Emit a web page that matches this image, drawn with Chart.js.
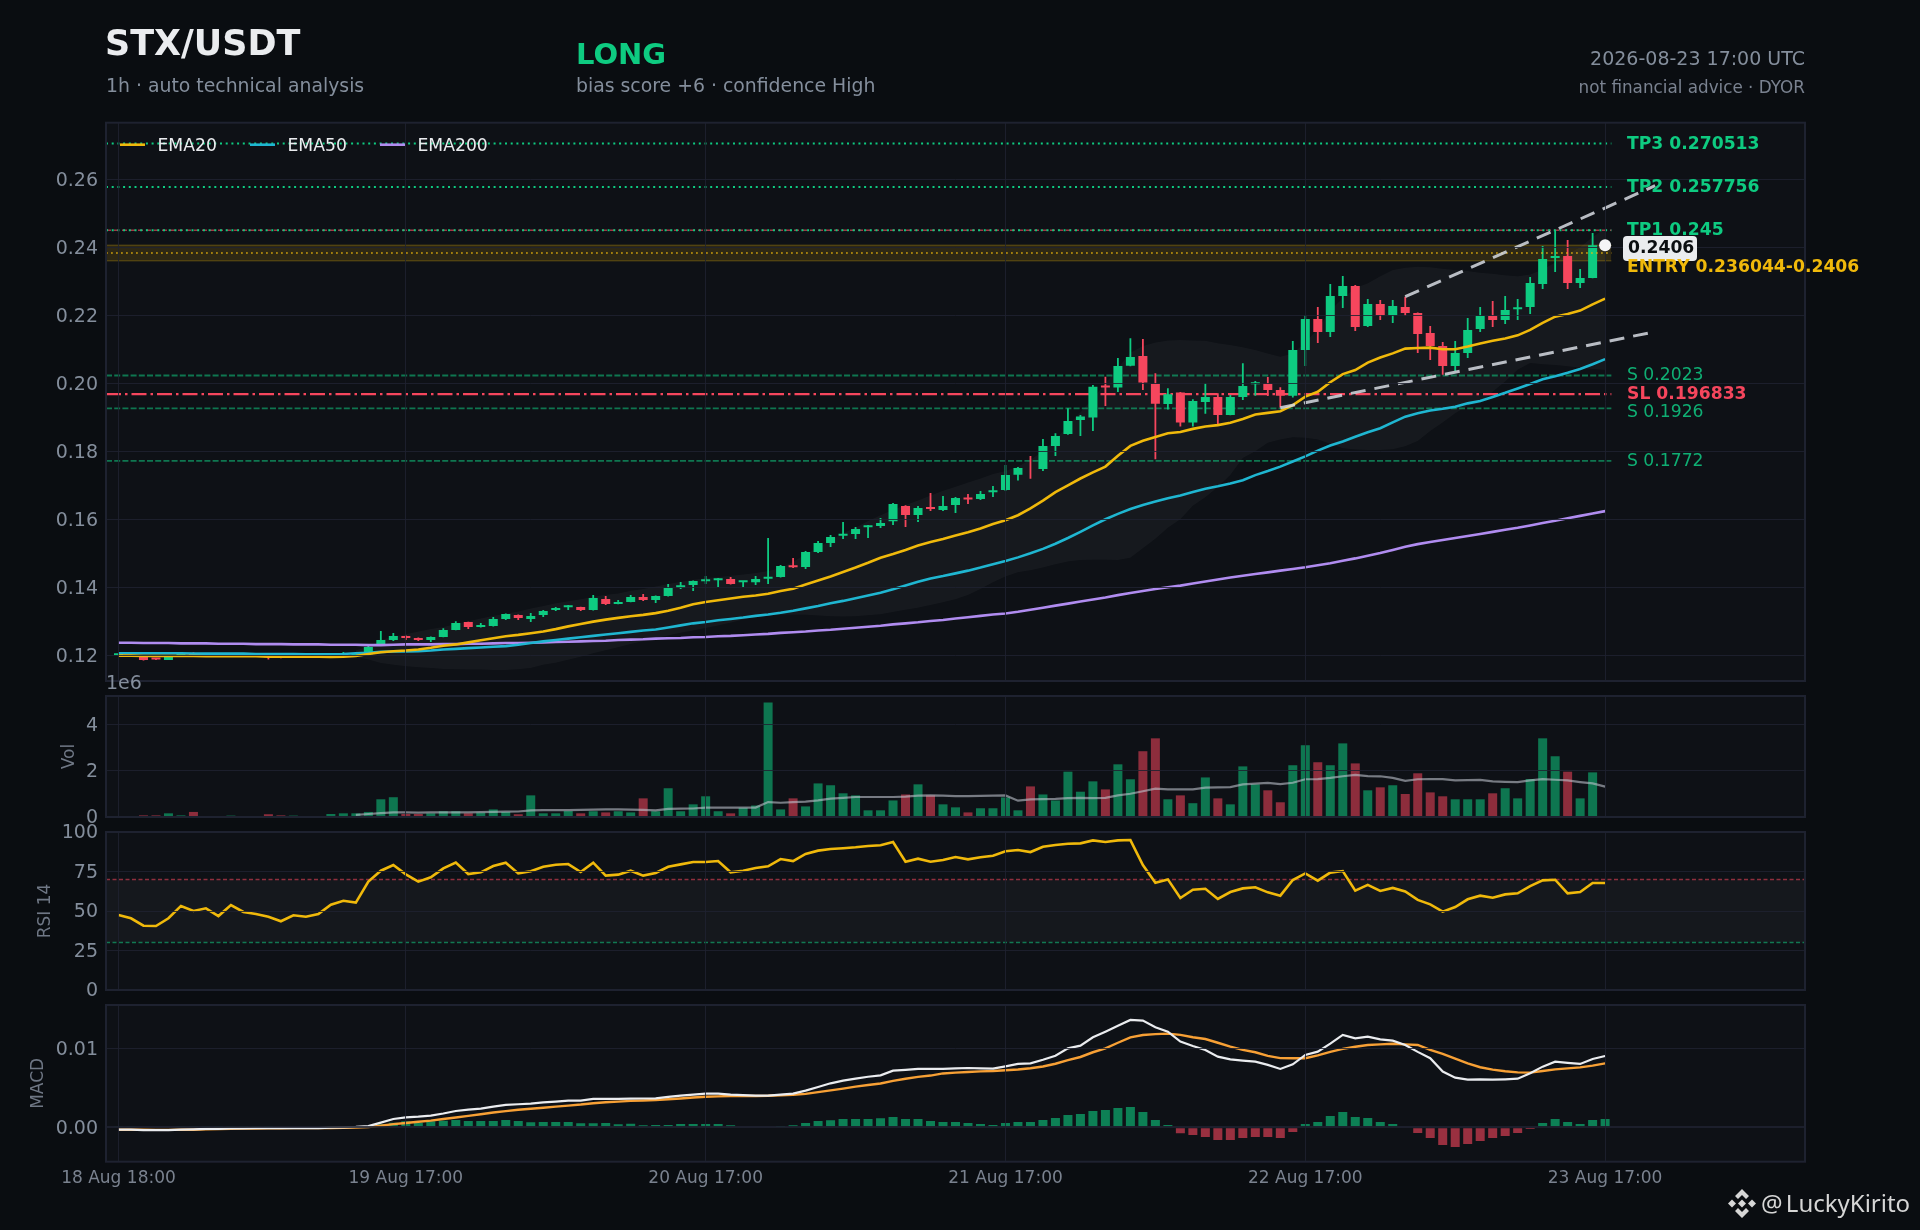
<!DOCTYPE html>
<html>
<head>
<meta charset="utf-8">
<title>STX/USDT</title>
<script src="https://cdn.jsdelivr.net/npm/chart.js@4/dist/chart.umd.min.js"></script>
<style>
  html, body { margin: 0; padding: 0; background: #0a0d11; }
  #page { position: relative; width: 1920px; height: 1230px; overflow: hidden; background: #0a0d11; font-family: "DejaVu Sans", sans-serif; }
  canvas { position: absolute; left: 0; top: 0; }
  .txt { position: absolute; line-height: 1; white-space: nowrap; transform: translateY(-50%); color: #848e9c; }
</style>
</head>
<body>
<div id="page">
  <canvas id="priceChart" width="1920" height="1230"></canvas>
  <canvas id="volChart" width="1920" height="1230"></canvas>
  <canvas id="rsiChart" width="1920" height="1230"></canvas>
  <canvas id="macdChart" width="1920" height="1230"></canvas>
  <div class="txt" style="left:105px;top:43px;font-size:35px;font-weight:bold;color:#eaecef">STX/USDT</div>
  <div class="txt" style="left:106px;top:86px;font-size:18.85px">1h · auto technical analysis</div>
  <div class="txt" style="left:576px;top:54px;font-size:29px;font-weight:bold;color:#0ecb81">LONG</div>
  <div class="txt" style="left:576px;top:86px;font-size:18.85px">bias score +6 · confidence High</div>
  <div class="txt" style="right:115px;top:58px;font-size:19px">2026-08-23 17:00 UTC</div>
  <div class="txt" style="right:115px;top:87px;font-size:16.8px;color:#7a8290">not financial advice · DYOR</div>
  <svg style="position:absolute;left:1728px;top:1189px" width="28" height="29" viewBox="0 0 28 29" fill="#d6d6d6">
    <polygon points="14,0 21,7 18,10 14,6 10,10 7,7"/>
    <polygon points="14,29 21,22 18,19 14,23 10,19 7,22"/>
    <polygon points="14,10.5 18,14.5 14,18.5 10,14.5"/>
    <polygon points="4,10.5 8,14.5 4,18.5 0,14.5"/>
    <polygon points="24,10.5 28,14.5 24,18.5 20,14.5"/>
  </svg>
  <div class="txt" style="left:1761px;top:1203px;font-size:24px;word-spacing:-3px;color:#d6d6d6;font-family:'Noto Sans',sans-serif">@ LuckyKirito</div>
</div>

<script>
// candles, 18 Aug 18:00 onwards, one per hour
const opens = [
  .1200,.1200,.1198,.1190,.1186,.1198,.1201,.1199,.1199,.1199,
  .1200,.1199,.1198,.1197,.1192,.1197,.1199,.1200,.1200,.1201,
  .12029,.12304,.12451,.12568,.1251,.12451,.12539,.12745,.1298,.12833,
  .12862,.13068,.13186,.13068,.13186,.13333,.13411,.13421,.13333,.13656,
  .13509,.13568,.13715,.13627,.13744,.1398,.14068,.14176,.14205,.14244,
  .14146,.14146,.14254,.14303,.14607,.14597,.15038,.15303,.15518,.15567,
  .15763,.15802,.1594,.1639,.16126,.16332,.16273,.1642,.16616,.16596,
  .16792,.1686,.1731,.1786,.1748,.18158,.1851,.18922,.18991,.19892,
  .19873,.20519,.20804,.1998,.19392,.19726,.18844,.19451,.19598,.19069,
  .19598,.1997,.1999,.19804,.19637,.2098,.21891,.21509,.22568,.22862,
  .21686,.22332,.22,.22244,.22068,.2148,.21098,.2051,.20892,.216,
  .2198,.21862,.22176,.22244,.2292,.23685,.23744,.2295,.23097
];
const closes = [
  .1201,.11999,.1186,.1188,.1198,.1199,.1198,.1200,.1200,.1200,
  .1199,.1198,.1194,.1192,.1197,.1195,.1200,.1201,.1201,.1203,
  .12245,.12451,.12568,.1251,.12451,.12539,.12745,.12951,.12833,.12892,
  .13068,.13215,.13098,.13156,.13303,.13392,.13431,.13333,.13686,.13509,
  .13568,.13715,.13627,.13744,.1398,.14058,.14185,.14195,.14225,.14097,
  .14166,.14244,.14303,.14626,.14587,.15038,.15303,.15479,.15557,.15714,
  .15802,.1589,.16449,.16126,.16332,.16302,.1639,.16626,.16586,.16743,
  .16831,.1730,.1751,.17859,.18158,.18452,.18893,.1902,.19902,.19873,
  .2051,.20774,.2002,.19402,.19677,.18844,.19481,.19598,.19069,.19598,
  .19922,.1999,.19804,.19637,.2098,.21891,.21509,.22568,.22862,.21656,
  .22332,.22,.22274,.22068,.2145,.21098,.2051,.20892,.21568,.2198,
  .21862,.22156,.22234,.2295,.23655,.23724,.2295,.23097,.2406
];
const highs = [
  .1202,.1201,.1199,.1191,.1199,.1200,.1209,.1201,.1201,.1201,
  .1201,.1200,.1199,.1198,.1198,.1198,.1201,.1202,.12098,.12098,
  .12274,.12715,.12657,.1258,.1252,.1255,.12794,.13,.1299,.12951,
  .13127,.1323,.1320,.13245,.13333,.13421,.1348,.1343,.13774,.13744,
  .13627,.13774,.13803,.1376,.14097,.14156,.1420,.14332,.14274,.14303,
  .14185,.14332,.1545,.14656,.14862,.15067,.15361,.15538,.1592,.15773,
  .15832,.16038,.16479,.1641,.1639,.16773,.16684,.16655,.16743,.16831,
  .16978,.1760,.1754,.1786,.1836,.1853,.19265,.19069,.19951,.20196,
  .20745,.21323,.21303,.20294,.19853,.19745,.1953,.2000,.19706,.19657,
  .20588,.20069,.20186,.19882,.21245,.22,.22244,.2292,.23156,.22891,
  .2248,.2245,.2245,.22548,.2208,.21686,.21215,.21245,.2192,.22244,
  .2242,.22568,.2248,.23126,.24038,.24508,.24214,.23361,.2442
];
const lows = [
  .1199,.1199,.1185,.1186,.1186,.1197,.1197,.1198,.1198,.1198,
  .1198,.1197,.1188,.1191,.1192,.1192,.1198,.1199,.1198,.1199,
  .1200,.1228,.12421,.12451,.12421,.12392,.1253,.1274,.12774,.1282,
  .1285,.13039,.13039,.1298,.13127,.13303,.13333,.13303,.1332,.1348,
  .1350,.1356,.13597,.13539,.1373,.1395,.13891,.14097,.14009,.1408,
  .14009,.14068,.14097,.1429,.14568,.14538,.15009,.15185,.1542,.1542,
  .1545,.15744,.15832,.15773,.1592,.16243,.16243,.16185,.16449,.16567,
  .16655,.1683,.1714,.1719,.1742,.17864,.1849,.18452,.18599,.19334,
  .19745,.2050,.19804,.17766,.19226,.18726,.18726,.19108,.18804,.1906,
  .1951,.19637,.19628,.19285,.19579,.2051,.21186,.21362,.22215,.21539,
  .21656,.21862,.21774,.2198,.20892,.20686,.20255,.20363,.20745,.21509,
  .21656,.21744,.21862,.22038,.22773,.23273,.22773,.22803,.2309
];

const ema20 = [
  .1199,.1199,.1198,.1198,.1198,.1198,.1198,.1197,.1197,.1197,
  .1197,.1197,.1196,.1196,.1196,.1196,.1196,.1195,.1196,.1198,
  .1204,.1209,.1212,.1214,.1217,.1222,.1228,.1232,.1238,.1244,
  .1250,.1256,.1260,.1265,.1270,.1277,.1285,.1292,.1299,.1305,
  .1310,.1315,.1319,.1324,.1331,.1340,.1350,.1357,.1362,.1367,
  .1372,.1376,.1381,.1389,.1396,.1408,.1420,.1432,.1445,.1458,
  .1472,.1487,.1498,.1510,.1523,.1533,.1542,.1552,.1562,.1573,
  .1586,.1597,.1612,.1632,.1655,.1680,.1700,.1720,.1738,.1755,
  .1787,.1816,.1831,.1842,.1853,.1857,.1866,.1873,.1877,.1884,
  .1895,.1908,.1913,.1918,.1936,.1961,.1975,.2003,.2027,.2039,
  .2061,.2076,.2088,.2102,.2104,.2105,.2100,.2100,.2108,.2117,
  .2125,.2132,.2141,.2157,.2178,.2196,.2204,.2214,.2232,.2249
];
const ema50 = [
  .1206,.1206,.1206,.1206,.1206,.1206,.1205,.1205,.1205,.1205,
  .1205,.1204,.1204,.1204,.1204,.1203,.1203,.1203,.1204,.1206,
  .1207,.1210,.1211,.1211,.1212,.1214,.1217,.1219,.1221,.1223,
  .1225,.1227,.1231,.1236,.1241,.1245,.1249,.1253,.1257,.1261,
  .1265,.1269,.1273,.1276,.1282,.1288,.1294,.1298,.1303,.1307,
  .1311,.1316,.1320,.1325,.1331,.1338,.1345,.1353,.1360,.1368,
  .1376,.1384,.1394,.1405,.1416,.1426,.1433,.1441,.1449,.1458,
  .1468,.1477,.1488,.1500,.1513,.1528,.1545,.1563,.1582,.1600,
  .1616,.1630,.1642,.1652,.1662,.1670,.1680,.1690,.1697,.1705,
  .1715,.1730,.1742,.1755,.1770,.1785,.1802,.1817,.1829,.1843,
  .1856,.1868,.1885,.1902,.1912,.1920,.1925,.1931,.1941,.1948,
  .1960,.1972,.1985,.1998,.2012,.2021,.2031,.2042,.2056,.2071
];
const ema200 = [
  .1237,.1237,.1236,.1236,.1236,.1235,.1235,.1235,.1234,.1234,
  .1234,.1233,.1233,.1233,.1232,.1232,.1232,.1231,.1231,.1231,
  .1230,.1230,.1231,.1232,.1232,.1232,.1233,.1233,.1234,.1234,
  .1235,.1236,.1236,.1237,.1238,.1239,.1240,.1241,.1242,.1243,
  .1245,.1246,.1247,.1249,.1250,.1251,.1253,.1254,.1256,.1257,
  .1259,.1261,.1263,.1266,.1268,.1270,.1273,.1275,.1278,.1281,
  .1284,.1287,.1291,.1294,.1297,.1301,.1304,.1308,.1312,.1316,
  .1320,.1323,.1328,.1334,.1340,.1346,.1352,.1358,.1364,.1370,
  .1377,.1383,.1389,.1395,.1400,.1405,.1411,.1417,.1423,.1429,
  .1434,.1439,.1444,.1449,.1454,.1459,.1465,.1471,.1478,.1485,
  .1493,.1501,.1510,.1519,.1527,.1533,.1539,.1545,.1551,.1557,
  .1563,.1569,.1575,.1582,.1589,.1596,.1603,.1610,.1617,.1624
];

const bbUpper = [
  null,null,null,null,null,null,null,null,null,null,
  null,null,null,null,null,null,null,null,null,.1215,
  .1225,.1245,.1255,.1262,.1270,.1277,.1283,.1292,.1300,.1308,
  .1316,.1322,.1329,.1338,.1345,.1353,.1359,.1365,.1372,.1378,
  .1382,.1390,.1395,.1402,.1410,.1416,.1422,.1427,.1430,.1434,
  .1438,.1442,.1448,.1456,.1475,.1497,.1517,.1538,.1559,.1576,
  .1595,.1612,.1628,.1642,.1655,.1670,.1684,.1696,.1708,.1720,
  .1733,.1742,.1755,.1775,.1800,.1835,.1875,.1915,.1955,.2000,
  .2045,.2090,.2110,.2120,.2126,.2127,.2126,.2125,.2118,.2113,
  .2106,.2098,.2088,.2078,.2088,.2120,.2160,.2215,.2250,.2280,
  .2294,.2315,.2333,.2340,.2343,.2341,.2337,.2333,.2330,.2325,
  .2322,.2318,.2315,.2320,.2335,.2355,.2380,.2400,.2430,.2455
];
const bbLower = [
  null,null,null,null,null,null,null,null,null,null,
  null,null,null,null,null,null,null,null,null,.1195,
  .1188,.1177,.1172,.1168,.1165,.1163,.1160,.1159,.1158,.1158,
  .1157,.1157,.1159,.1163,.1172,.1178,.1187,.1196,.1206,.1215,
  .1224,.1233,.1241,.1250,.1258,.1266,.1273,.1280,.1288,.1296,
  .1305,.1312,.1316,.1319,.1319,.1319,.1317,.1315,.1314,.1315,
  .1318,.1321,.1327,.1334,.1340,.1348,.1356,.1365,.1377,.1395,
  .1415,.1432,.1444,.1450,.1458,.1468,.1476,.1480,.1481,.1481,
  .1480,.1487,.1515,.1543,.1575,.1600,.1640,.1665,.1695,.1730,
  .1780,.1800,.1825,.1835,.1841,.1840,.1835,.1822,.1809,.1805,
  .1804,.1804,.1806,.1815,.1830,.1860,.1885,.1912,.1934,.1941,
  .1975,.2005,.2040,.2060,.2056,.2054,.2050,.2046,.2042,.2039
];

// volume in millions, the axis carries the 1e6
const volumes = [
  0,.02,.07,.07,.16,.07,.22,.02,0,.06,
  .01,.01,.12,.07,.06,.02,0,.13,.16,.16,
  .22,.77,.86,.13,.13,.16,.25,.25,.16,.19,
  .33,.22,.12,.94,.16,.16,.26,.16,.25,.2,
  .25,.2,.81,.25,1.25,.25,.55,.9,.25,.16,
  .4,.5,4.98,.33,.81,.46,1.46,1.38,1.03,.94,
  .29,.29,.72,.98,1.42,.94,.55,.42,.2,.38,
  .38,.85,.29,1.33,.98,.72,1.97,1.1,1.55,1.2,
  2.29,1.64,2.86,3.42,.77,.94,.6,1.72,.81,.55,
  2.2,1.42,1.16,.64,2.25,3.12,2.38,2.25,3.2,2.33,
  1.16,1.29,1.38,1,1.9,1.07,.9,.77,.77,.77,
  1.03,1.25,.81,1.65,3.42,2.64,1.97,.81,1.94
];
const volumeMa = [
  null,null,null,null,null,null,null,null,null,null,
  null,null,null,null,null,null,null,null,null,.09,
  .13,.17,.2,.2,.19,.2,.2,.2,.2,.21,
  .22,.23,.24,.29,.3,.3,.3,.31,.32,.33,
  .33,.32,.31,.29,.35,.36,.37,.41,.41,.41,
  .41,.41,.65,.62,.65,.67,.72,.8,.83,.87,
  .87,.87,.87,.89,.93,.94,.93,.91,.91,.92,
  .93,.94,.71,.77,.78,.79,.82,.83,.82,.83,
  .94,1.01,1.12,1.23,1.2,1.2,1.2,1.28,1.29,1.3,
  1.42,1.45,1.48,1.43,1.49,1.64,1.65,1.7,1.77,1.83,
  1.78,1.77,1.7,1.57,1.64,1.65,1.65,1.59,1.6,1.61,
  1.55,1.53,1.52,1.59,1.65,1.62,1.59,1.52,1.46,1.32
];

const rsi = [
  47.5,45.4,40.7,40.5,45.4,53.2,50,51.7,46.8,53.8,
  49.4,48.1,46.4,43.5,47.3,46.4,48.1,54,56.5,55.3,
  68.6,75.5,79.1,73.2,68.6,71.3,77,80.6,73.4,74.5,
  78.5,80.6,73.8,75.1,78,79.3,79.7,74.7,80.6,72.4,
  73,75.5,72.4,74.1,78,79.5,81,81,81.6,74.5,
  75.5,77.2,78.3,82.9,81.6,86.1,88.2,89.2,89.7,90.3,
  91.1,91.6,93.7,81.2,83.1,81.2,82.3,84.2,82.7,84,
  85,87.8,88.6,87.3,90.7,91.8,92.6,92.8,94.7,93.7,
  94.7,94.9,79.1,67.9,70,58.2,63.5,64.1,57.6,62,
  64.3,65,61.8,59.7,69.6,73.8,69.2,74.3,75.3,62.9,
  66.5,62.7,64.6,62.4,57,54.2,49.6,52.5,57.4,59.7,
  58.4,60.5,61.2,65.8,69.4,69.8,61.2,62,67.7,67.7
];

const macd = [
  -.0003,-.0003,-.00035,-.00035,-.00035,-.0003,-.00025,-.0002,-.0002,-.00015,
  -.00015,-.0001,-.0001,-.0001,-.0001,-.0001,-.0001,-.00005,0,.00005,
  .00015,.0006,.00105,.00127,.00135,.00148,.00175,.00207,.00225,.00236,
  .00262,.00283,.00292,.003,.00315,.00325,.00338,.00338,.00359,.00359,
  .00359,.00362,.00365,.00367,.00385,.004,.00414,.00426,.00426,.00414,
  .00408,.00402,.004,.00413,.00426,.00465,.0051,.00557,.0059,.00616,
  .0064,.00658,.00717,.00728,.00739,.00739,.00739,.00745,.00751,.00747,
  .00743,.00772,.00802,.0081,.00855,.00905,.01,.01034,.01139,.01211,
  .01285,.01359,.0135,.01266,.01211,.01085,.0103,.00979,.00895,.00861,
  .00845,.00831,.0079,.00739,.00798,.00916,.00958,.0106,.01169,.01127,
  .01148,.01114,.01097,.01042,.00955,.00874,.00705,.00629,.00603,.00608,
  .00603,.00608,.00616,.00684,.00768,.00831,.00815,.00802,.00865,.00903
];
const macdSignal = [
  -.0003,-.0003,-.0003,-.00032,-.00032,-.0003,-.0003,-.00025,-.00022,-.0002,
  -.00017,-.00015,-.00012,-.00012,-.0001,-.0001,-.0001,-.00008,-.00005,-.00002,
  .00003,.0002,.0004,.00055,.0007,.00085,.00105,.00125,.00145,.00165,
  .00188,.00205,.00222,.00235,.00248,.00262,.00275,.00288,.00305,.00318,
  .00325,.00335,.0034,.00346,.00355,.00365,.00378,.00386,.00392,.00396,
  .00397,.00397,.00399,.00405,.00412,.00423,.00445,.00468,.0049,.00515,
  .00535,.00555,.00587,.00615,.00638,.00655,.00682,.00692,.007,.00708,
  .00713,.00722,.00732,.00747,.0077,.00805,.0085,.0089,.0095,.01,
  .0107,.01139,.01169,.0118,.01186,.0117,.0114,.01118,.0107,.01021,
  .0098,.0095,.00905,.00876,.00874,.00874,.0091,.00955,.00992,.0102,
  .01042,.0105,.01058,.0105,.01042,.0098,.0093,.0087,.0081,.0076,
  .0073,.0071,.00696,.00692,.00712,.00734,.00746,.00758,.0078,.0081
];
const macdHist = [
  .0001,.0001,0,0,0,.0001,.0001,.0001,.0001,.0001,
  .0001,.0001,.0001,0,0,0,0,.0001,.0001,.0001,
  .0001,.0004,.00059,.00076,.00059,.00076,.00084,.00093,.0008,.0008,
  .0008,.00093,.0008,.00063,.00068,.00068,.00068,.00051,.00051,.00055,
  .00038,.00046,.00025,.0003,.0003,.00042,.00042,.00042,.00042,.00025,
  .00013,0,0,.00008,.00025,.00055,.0008,.00089,.00105,.00105,
  .00105,.00114,.00131,.00105,.00105,.0008,.00068,.00068,.00055,.00042,
  .0003,.00055,.00068,.00068,.00093,.00118,.00156,.00169,.00207,.00219,
  .00245,.00257,.00194,.00093,.0003,-.00076,-.00097,-.00122,-.0016,-.0016,
  -.00135,-.00122,-.00122,-.00135,-.00059,.00042,.00068,.00143,.00194,.00131,
  .00118,.00068,.00042,0,-.00072,-.00135,-.00224,-.00249,-.00211,-.00173,
  -.00135,-.0011,-.00072,-.00021,.00055,.00105,.00068,.00042,.00093,.00105
];

const xTickIndex = [0, 23, 47, 71, 95, 119];
const xTickLabels = ["18 Aug 18:00", "19 Aug 17:00", "20 Aug 17:00", "21 Aug 17:00", "22 Aug 17:00", "23 Aug 17:00"];
const priceTicks = [0.12, 0.14, 0.16, 0.18, 0.20, 0.22, 0.24, 0.26];
const volTicks = [0, 2, 4];
const rsiTicks = [0, 25, 50, 75, 100];
const macdTicks = [0, 0.01];

const tpLevels = [0.270513, 0.257756, 0.245];
const tpLabels = ["TP3 0.270513", "TP2 0.257756", "TP1 0.245"];
const supportLevels = [0.2023, 0.1926, 0.1772];
const supportLabels = ["S 0.2023", "S 0.1926", "S 0.1772"];
const entryLow = 0.236044;
const entryHigh = 0.2406;
const entryLabel = "ENTRY 0.236044-0.2406";
const stopLevel = 0.196833;
const stopLabel = "SL 0.196833";
const lastIndex = 119;
const lastPrice = 0.2406;
const lastPriceLabel = "0.2406";
const trendUpperX = [103, 123];
const trendUpperY = [0.22547, 0.25812];
const trendLowerX = [93, 123];
const trendLowerY = [0.19282, 0.21518];
const rsiBands = [30, 70];

const GREEN = "#0ecb81";
const RED = "#f6465d";
const YELLOW = "#f0b90b";
const MUTED = "#848e9c";
const GRID = "rgba(30,34,48,0.85)";
const FRAME = "#1e2230";
const PLOT_BG = "#0e1116";
const X_MIN = -1;
const X_MAX = 135;
const LEVEL_END = 119.5;

Chart.defaults.font.family = '"DejaVu Sans", sans-serif';
Chart.defaults.font.size = 17;
Chart.defaults.color = MUTED;
Chart.defaults.animation = false;

const points = arr => arr.map((y, x) => ({ x, y }));

function lineSet(data, color, width, order, extra = {}) {
  return {
    type: "line", data, borderColor: color, borderWidth: width, order,
    pointRadius: 0, tension: 0, fill: false, ...extra
  };
}

function levelLine(value, color, dash, width, order) {
  const data = [{ x: X_MIN, y: value }, { x: LEVEL_END, y: value }];
  return lineSet(data, color, width, order, { borderDash: dash });
}

function barSet(data, color, thickness, order) {
  return {
    type: "bar", data, backgroundColor: color, order, grouped: false,
    barThickness: thickness, borderWidth: 0, inflateAmount: 0
  };
}

const framePlugin = {
  id: "frame",
  beforeDraw(chart) {
    const { ctx, chartArea: a } = chart;
    ctx.save();
    ctx.fillStyle = PLOT_BG;
    ctx.fillRect(a.left, a.top, a.width, a.height);
    ctx.restore();
  },
  afterDraw(chart) {
    const { ctx, chartArea: a } = chart;
    ctx.save();
    ctx.strokeStyle = FRAME;
    ctx.lineWidth = 2;
    ctx.strokeRect(a.left, a.top, a.width, a.height);
    ctx.restore();
  }
};

// price level captions on the right, badge and legend
const priceTextPlugin = {
  id: "priceText",
  afterDraw(chart) {
    const { ctx, scales: { x, y } } = chart;
    const textX = 1627;
    const put = (text, value, color, font, nudge) => {
      ctx.font = font;
      ctx.fillStyle = color;
      ctx.fillText(text, textX, y.getPixelForValue(value) + nudge);
    };
    const bold = 'bold 17.2px "DejaVu Sans"';
    const plain = '17.2px "DejaVu Sans"';
    ctx.save();
    ctx.textBaseline = "middle";
    ctx.textAlign = "left";

    // last price dot goes over the grid, which is drawn above the datasets
    ctx.fillStyle = "#f4f5f7";
    ctx.beginPath();
    ctx.arc(x.getPixelForValue(lastIndex), y.getPixelForValue(lastPrice), 6, 0, Math.PI * 2);
    ctx.fill();

    // white tag for the last price
    const bx = 1623, by = 236, bw = 74, bh = 25;
    ctx.fillStyle = "#eaecef";
    ctx.beginPath();
    ctx.roundRect(bx, by, bw, bh, 4);
    ctx.fill();
    ctx.font = bold;
    ctx.fillStyle = "#0b0e11";
    ctx.fillText(lastPriceLabel, 1628, by + 12.5);

    tpLabels.forEach((t, i) => put(t, tpLevels[i], GREEN, bold, 0.5));
    put(entryLabel, entryLow, YELLOW, bold, 7);
    supportLabels.forEach((t, i) => put(t, supportLevels[i], "#0fae73", plain, i === 1 ? 4.5 : 0.3));
    put(stopLabel, stopLevel, RED, bold, 0);

    // legend
    const legend = [["EMA20", YELLOW, 120], ["EMA50", "#1fb6d1", 250], ["EMA200", "#b08cf0", 380]];
    legend.forEach(([name, color, lx]) => {
      ctx.strokeStyle = color;
      ctx.lineWidth = 2.6;
      ctx.beginPath();
      ctx.moveTo(lx, 144.7);
      ctx.lineTo(lx + 25, 144.7);
      ctx.stroke();
      ctx.font = plain;
      ctx.fillStyle = "#eaecef";
      ctx.fillText(name, lx + 37.5, 146.5);
    });
    ctx.restore();
  }
};

const offsetTextPlugin = {
  id: "offsetText",
  afterDraw(chart) {
    const { ctx } = chart;
    ctx.save();
    ctx.font = '19px "DejaVu Sans"';
    ctx.fillStyle = MUTED;
    ctx.textBaseline = "middle";
    ctx.fillText("1e6", 106, 684.5);
    ctx.restore();
  }
};

function panelOptions(cfg) {
  return {
    responsive: false,
    devicePixelRatio: 1,
    layout: { padding: { left: 0, right: 115, top: cfg.top, bottom: 1230 - cfg.bottom - (cfg.xLabels ? 50 : 0) } },
    plugins: { legend: { display: false }, tooltip: { enabled: false } },
    events: [],
    scales: {
      x: {
        type: "linear", min: X_MIN, max: X_MAX, offset: false,
        afterBuildTicks: s => { s.ticks = xTickIndex.map(value => ({ value })); },
        afterFit: s => { s.height = cfg.xLabels ? 50 : 0; },
        grid: { color: GRID, lineWidth: 1, drawTicks: false, offset: false, z: 1 },
        border: { display: false },
        ticks: {
          display: !!cfg.xLabels, autoSkip: false, maxRotation: 0, padding: 7,
          font: { size: 17 }, color: "#7a828f",
          callback: v => xTickLabels[xTickIndex.indexOf(v)]
        }
      },
      y: {
        type: "linear", min: cfg.yMin, max: cfg.yMax,
        afterBuildTicks: s => { s.ticks = cfg.ticks.map(value => ({ value })); },
        afterFit: s => { s.width = 106; },
        grid: {
          color: cfg.gridColor || GRID, lineWidth: cfg.gridWidth || 1, drawTicks: false, z: 1
        },
        border: { display: false },
        title: cfg.title ? {
          display: true, text: cfg.title, color: "#6f7785", font: { size: 17 },
          padding: { top: cfg.titleAt, bottom: 0 }
        } : { display: false },
        ticks: { padding: 8, labelOffset: 1.5, font: { size: 19 }, color: MUTED, callback: cfg.format }
      }
    }
  };
}

// price panel
const candleColor = opens.map((o, i) => closes[i] >= o ? GREEN : RED);
const wicks = opens.map((o, i) => ({ x: i, y: [lows[i], highs[i]] }));
const bodies = opens.map((o, i) => ({ x: i, y: Math.abs(closes[i] - o) < 0.00002 ? null : [o, closes[i]] }));
const zoneBottom = [{ x: X_MIN, y: entryLow }, { x: LEVEL_END, y: entryLow }];
const zoneTop = [{ x: X_MIN, y: entryHigh }, { x: LEVEL_END, y: entryHigh }];

const wickSet = barSet(wicks, candleColor, 1.8, 20);
wickSet.minBarLength = 1;
const bodySet = barSet(bodies, candleColor, 9, 19);
bodySet.minBarLength = 2;

new Chart(document.getElementById("priceChart"), {
  type: "bar",
  data: {
    datasets: [
      lineSet(points(bbLower), "rgba(0,0,0,0)", 0, 40),
      lineSet(points(bbUpper), "rgba(0,0,0,0)", 0, 39, { fill: "-1", backgroundColor: "rgba(255,255,255,0.035)" }),
      lineSet(zoneBottom, "rgba(240,185,11,0.22)", 1.5, 38),
      lineSet(zoneTop, "rgba(240,185,11,0.22)", 1.5, 37, { fill: "-1", backgroundColor: "rgba(240,185,11,0.14)" }),
      ...tpLevels.map(v => levelLine(v, GREEN, [2, 3.7], 2, 30)),
      levelLine(tpLevels[2], "rgba(246,70,93,0.65)", [5, 3], 1.6, 31),
      ...supportLevels.map(v => levelLine(v, "rgba(14,203,129,0.55)", [6, 2.2], 1.8, 30)),
      levelLine(stopLevel, RED, [15, 4, 2.5, 4], 2.2, 29),
      wickSet,
      bodySet,
      levelLine((entryLow + entryHigh) / 2, "rgba(240,185,11,0.8)", [1.8, 3.2], 1.6, 10),
      lineSet(points(ema200), "#b08cf0", 2.6, 6),
      lineSet(points(ema50), "#1fb6d1", 2.6, 5),
      lineSet(points(ema20), YELLOW, 2.6, 4),
      lineSet(trendUpperX.map((x, i) => ({ x, y: trendUpperY[i] })), "rgba(214,218,226,0.85)", 3, 3, { borderDash: [15, 9] }),
      lineSet(trendLowerX.map((x, i) => ({ x, y: trendLowerY[i] })), "rgba(214,218,226,0.85)", 3, 3, { borderDash: [15, 9] })
    ]
  },
  options: panelOptions({
    top: 122.7, bottom: 681, yMin: 0.11244, yMax: 0.27665,
    ticks: priceTicks, format: v => v.toFixed(2)
  }),
  plugins: [framePlugin, priceTextPlugin]
});

// volume panel
const volColor = candleColor.map(c => c === GREEN ? "rgba(14,203,129,0.55)" : "rgba(246,70,93,0.55)");
new Chart(document.getElementById("volChart"), {
  type: "bar",
  data: {
    datasets: [
      barSet(points(volumes), volColor, 9, 5),
      lineSet(points(volumeMa), "rgba(190,195,205,0.6)", 2.2, 1)
    ]
  },
  options: panelOptions({
    top: 696, bottom: 817, yMin: 0, yMax: 5.26,
    ticks: volTicks, format: v => String(v), title: "Vol", titleAt: 59.5
  }),
  plugins: [framePlugin, offsetTextPlugin]
});

// rsi panel
const bandLow = [{ x: X_MIN, y: rsiBands[0] }, { x: X_MAX, y: rsiBands[0] }];
const bandHigh = [{ x: X_MIN, y: rsiBands[1] }, { x: X_MAX, y: rsiBands[1] }];
new Chart(document.getElementById("rsiChart"), {
  type: "line",
  data: {
    datasets: [
      lineSet(bandLow, "rgba(14,203,129,0.55)", 1.5, 9, { borderDash: [4, 2.5] }),
      lineSet(bandHigh, "rgba(246,70,93,0.55)", 1.5, 8, { borderDash: [4, 2.5], fill: "-1", backgroundColor: "rgba(255,255,255,0.03)" }),
      lineSet(points(rsi), YELLOW, 2.6, 1)
    ]
  },
  options: panelOptions({
    top: 832, bottom: 990, yMin: 0, yMax: 100,
    ticks: rsiTicks, format: v => String(v), title: "RSI 14", titleAt: 35.6
  }),
  plugins: [framePlugin]
});

// macd panel
const histColor = macdHist.map(v => v >= 0 ? "rgba(14,203,129,0.6)" : "rgba(246,70,93,0.6)");
new Chart(document.getElementById("macdChart"), {
  type: "bar",
  data: {
    datasets: [
      barSet(points(macdHist), histColor, 9, 5),
      lineSet(points(macdSignal), "#f7a035", 2.4, 2),
      lineSet(points(macd), "#eaecef", 2.2, 1)
    ]
  },
  options: panelOptions({
    top: 1005, bottom: 1161.7, yMin: -0.00435, yMax: 0.01548,
    ticks: macdTicks, format: v => v.toFixed(2), title: "MACD", titleAt: 28.6, xLabels: true,
    gridWidth: ctx => ctx.tick && ctx.tick.value === 0 ? 2 : 1
  }),
  plugins: [framePlugin]
});
</script>
</body>
</html>
